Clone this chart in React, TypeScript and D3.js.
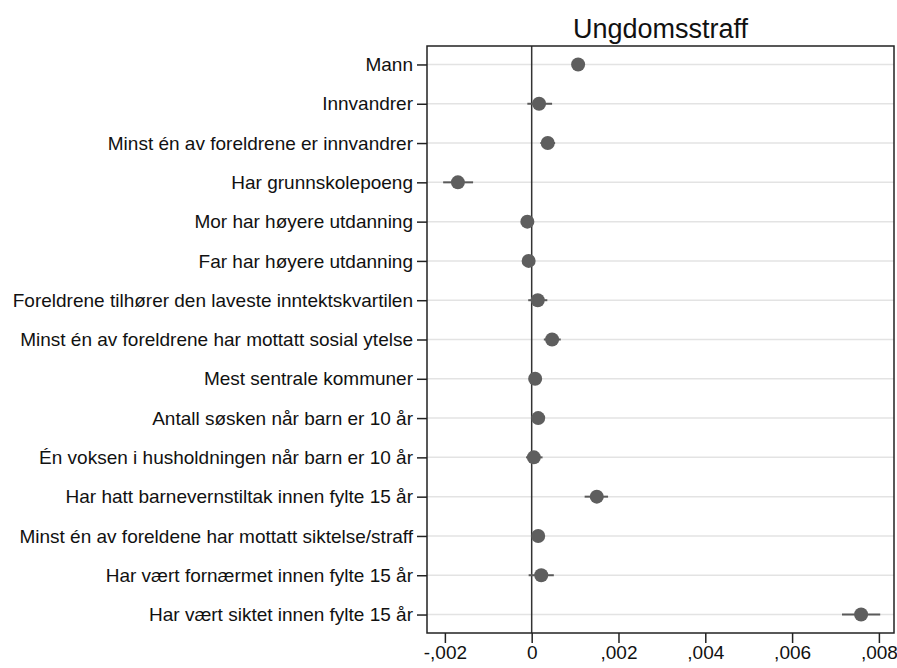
import React, { useEffect, useRef } from 'react';
import * as d3 from 'd3';

const title = 'Ungdomsstraff';
const labels = [
  'Mann',
  'Innvandrer',
  'Minst én av foreldrene er innvandrer',
  'Har grunnskolepoeng',
  'Mor har høyere utdanning',
  'Far har høyere utdanning',
  'Foreldrene tilhører den laveste inntektskvartilen',
  'Minst én av foreldrene har mottatt sosial ytelse',
  'Mest sentrale kommuner',
  'Antall søsken når barn er 10 år',
  'Én voksen i husholdningen når barn er 10 år',
  'Har hatt barnevernstiltak innen fylte 15 år',
  'Minst én av foreldene har mottatt siktelse/straff',
  'Har vært fornærmet innen fylte 15 år',
  'Har vært siktet innen fylte 15 år',
];
const estimates = [0.00107, 0.00017, 0.00037, -0.0017, -0.0001, -0.00007, 0.00014, 0.00047, 0.00008, 0.00015, 0.00005, 0.00150, 0.00015, 0.00022, 0.00759];
const lower = [0.00095, -0.0001, 0.00020, -0.00204, -0.0002, -0.00017, -0.00008, 0.00028, 0.0, 0.00005, -0.00013, 0.00122, 0.00005, -0.00007, 0.00715];
const upper = [0.00119, 0.00047, 0.00054, -0.00135, 0.0, 0.00003, 0.00036, 0.00067, 0.00016, 0.00025, 0.00025, 0.00176, 0.00025, 0.00051, 0.00803];
const xTicks = [-0.002, 0, 0.002, 0.004, 0.006, 0.008];
const xDomain = [-0.002412, 0.008348];

export default function App() {
  const ref = useRef<SVGSVGElement>(null);

  useEffect(() => {
    const svg = d3.select(ref.current);
    svg.selectAll('*').remove();
    const left = 427, right = 894, top = 46, bottom = 633;
    const font = '"Liberation Sans", Arial, Helvetica, sans-serif';

    const x = d3.scaleLinear().domain(xDomain).range([left, right]);
    const y = d3.scalePoint<string>().domain(labels).range([top, bottom]).padding(0.47);

    svg.append('rect').attr('width', 897).attr('height', 668).attr('fill', '#fff');

    // horizontal grid
    svg.append('g').selectAll('line').data(labels).enter().append('line')
      .attr('x1', left).attr('x2', right)
      .attr('y1', d => y(d)!).attr('y2', d => y(d)!)
      .attr('stroke', '#e3e3e3').attr('stroke-width', 1.5);

    // zero line
    svg.append('line')
      .attr('x1', x(0)).attr('x2', x(0)).attr('y1', top).attr('y2', bottom)
      .attr('stroke', '#333').attr('stroke-width', 1.5);

    // CIs
    svg.append('g').selectAll('line').data(labels).enter().append('line')
      .attr('x1', (d, i) => x(lower[i])).attr('x2', (d, i) => x(upper[i]))
      .attr('y1', d => y(d)!).attr('y2', d => y(d)!)
      .attr('stroke', '#5a5a5a').attr('stroke-width', 2);

    // points
    svg.append('g').selectAll('circle').data(labels).enter().append('circle')
      .attr('cx', (d, i) => x(estimates[i])).attr('cy', d => y(d)!)
      .attr('r', 7).attr('fill', '#5e5e5e');

    // frame
    svg.append('rect')
      .attr('x', left).attr('y', top).attr('width', right - left).attr('height', bottom - top)
      .attr('fill', 'none').attr('stroke', '#222').attr('stroke-width', 1.5);

    const yAxis = svg.append('g')
      .attr('transform', `translate(${left},0)`)
      .call(d3.axisLeft(y).tickSize(10).tickPadding(4));
    yAxis.select('.domain').remove();
    yAxis.selectAll('line').attr('stroke', '#222').attr('stroke-width', 1.5);
    yAxis.selectAll('text').attr('font-family', font).attr('font-size', 19).attr('fill', '#111');

    const xAxis = svg.append('g')
      .attr('transform', `translate(0,${bottom})`)
      .call(d3.axisBottom(x).tickValues(xTicks).tickSize(10).tickPadding(3)
        .tickFormat(d => {
          const v = +d;
          if (v === 0) return '0';
          return (v < 0 ? '-' : '') + ',' + Math.abs(v).toFixed(3).split('.')[1];
        }));
    xAxis.select('.domain').remove();
    xAxis.selectAll('line').attr('stroke', '#222').attr('stroke-width', 1.5);
    xAxis.selectAll('text').attr('font-family', font).attr('font-size', 19).attr('fill', '#111');

    svg.append('text')
      .attr('x', (left + right) / 2).attr('y', 38)
      .attr('text-anchor', 'middle')
      .attr('font-family', font).attr('font-size', 27).attr('fill', '#111')
      .text(title);
  }, []);

  return (
    <svg ref={ref} width={897} height={668} style={{ position: 'absolute', left: 0, top: 0 }} />
  );
}
